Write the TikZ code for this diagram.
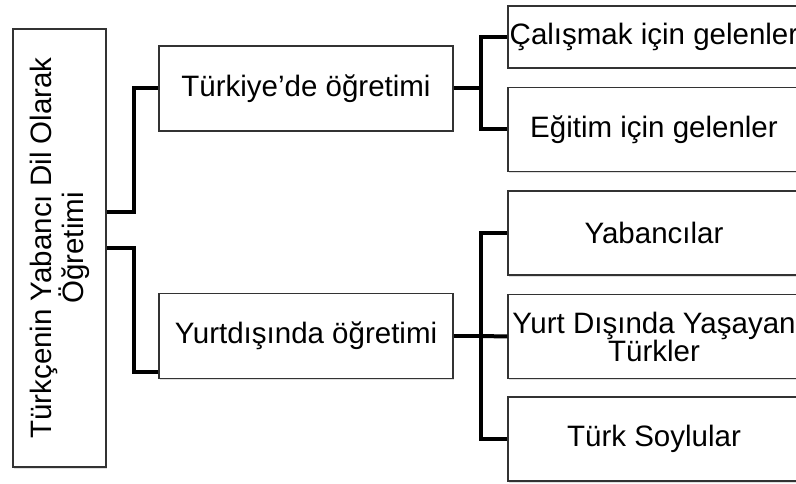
\documentclass[tikz,border=0pt]{standalone}
\usepackage{fontspec}
\setmainfont{Liberation Sans}
\usetikzlibrary{shadows}
\tikzset{box/.style = {draw=black!80, line width=1.3pt, fill=white, align=center, inner sep=0pt,
                       drop shadow={opacity=0.25, shadow xshift=1pt, shadow yshift=-1.5pt},
                       font=\fontsize{29.5}{28}\selectfont},
         midbox/.style = {box, minimum width=294pt, minimum height=85pt},
         leafbox/.style = {box, minimum width=292pt, minimum height=84pt},
         conn/.style = {line width=4pt}}

\begin{document}
\begin{tikzpicture}[x=1pt, y=-1pt]
    \clip (0,0) rectangle (796,484);
    \fill [white] (0,0) rectangle (796,484);

    \node [box, rotate=90, minimum width=438pt, minimum height=93pt] (root) at (59.5,248)
          {Türkçenin Yabancı Dil Olarak\\Öğretimi};

    \node [midbox] (turkiye) at (306,88.5) {Türkiye’de öğretimi};
    \node [midbox] (yurtdisi) at (306,336) {Yurtdışında öğretimi};

    \node [leafbox, minimum height=62pt] (calisma) at (654,37) {Çalışmak için gelenler};
    \node [leafbox] (egitim) at (654,129.5) {Eğitim için gelenler};
    \node [leafbox] (yabanci) at (654,233) {Yabancılar};
    \node [leafbox] (yasayan) at (654,336.5) {Yurt Dışında Yaşayan\\Türkler};
    \node [leafbox] (soylu) at (654,439) {Türk Soylular};

    \draw [conn] ([yshift=36pt]root.south) -- ++(27,0) |- (turkiye.west);
    \draw [conn] (root.south) -- ++(27,0) |- ([yshift=-36pt]yurtdisi.west);

    \draw [conn] (turkiye.east) -- ++(27,0) coordinate (jturkiye);
    \draw [conn] (jturkiye) |- (calisma.west);
    \draw [conn] (jturkiye) |- (egitim.west);

    \draw [conn] (yurtdisi.east) -- ++(27,0) coordinate (jyurtdisi);
    \draw [conn] (jyurtdisi) |- (yabanci.west);
    \draw [conn] (jyurtdisi) -- (yasayan.west);
    \draw [conn] (jyurtdisi) |- (soylu.west);
  \end{tikzpicture}
\end{document}
